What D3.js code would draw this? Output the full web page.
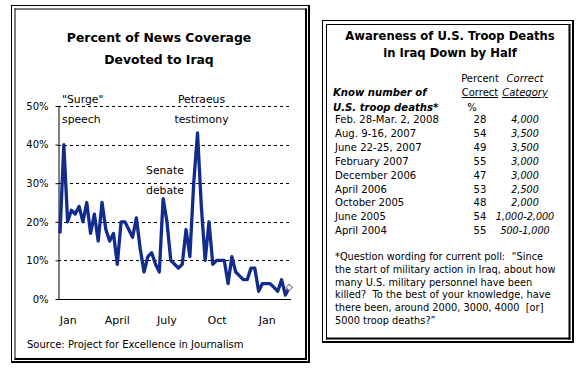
<!DOCTYPE html>
<html><head><meta charset="utf-8">
<script src="https://cdn.jsdelivr.net/npm/d3@7"></script>
<style>
html,body{margin:0;padding:0;background:#fff;}
svg{display:block;}
text{font-family:"DejaVu Sans",sans-serif;fill:#000;}
</style></head><body>
<svg id="c" width="585" height="369"></svg>
<script>
// ---------- data ----------
const chartTitle = ["Percent of News Coverage", "Devoted to Iraq"];
const firstWeek = "2007-01-01";
const lastWeek = "2008-02-25";
// weekly share of news coverage devoted to Iraq (%)
const coverage = [17,40,20,23,22,24,20,25,17,22,15,25,18,15,17,9,20,20,18,16,21,13,7,11,12,9,7,26,20,10,9,8,9,18,11,30,43,24,10,20,9,10,10,10,4,11,7,6,5,5,8,8,2,4,4,4,3,2,5,1,3];
const monthTickDates = ["2007-01-15","2007-04-15","2007-07-15","2007-10-15","2008-01-15"];
const monthTickLabels = ["Jan","April","July","Oct","Jan"];
const yTicks = [0,10,20,30,40,50];
const gridTicks = [10,20,30,40,50];
const noteTexts = [["\"Surge\"","speech"],["Petraeus","testimony"],["Senate","debate"]];
const noteDates = ["2007-01-01","2007-09-10","2007-07-05"];
const noteValues = [50,50,30];
const sourceText = "Source: Project for Excellence in Journalism";

const tableTitle = ["Awareness of U.S. Troop Deaths", "in Iraq Down by Half"];
const pollDates = ["Feb. 28-Mar. 2, 2008","Aug. 9-16, 2007","June 22-25, 2007","February 2007","December 2006","April 2006","October 2005","June 2005","April 2004"];
const pctCorrect = [28,54,49,55,47,53,48,54,55];
const correctCategory = ["4,000","3,500","3,500","3,000","3,000","2,500","2,000","1,000-2,000","500-1,000"];
const footnoteLines = [
  "*Question wording for current poll:  \u201CSince",
  "the start of military action in Iraq, about how",
  "many U.S. military personnel have been",
  "killed?  To the best of your knowledge, have",
  "there been, around 2000, 3000, 4000  [or]",
  "5000 troop deaths?\u201D"
];

// ---------- drawing ----------
const svg = d3.select("#c");
svg.append("rect").attr("width",585).attr("height",369).attr("fill","#fff");
const parse = d3.utcParse("%Y-%m-%d");

function frame(x0,y0,x1,y1,g0,g1){
  const g = svg.append("g").attr("stroke","#000").attr("fill","none");
  // outer
  g.append("line").attr("x1",x0).attr("x2",x1+1).attr("y1",y0+0.5).attr("y2",y0+0.5);
  g.append("line").attr("x1",x0+0.5).attr("x2",x0+0.5).attr("y1",y0).attr("y2",y1+1);
  g.append("line").attr("x1",x0).attr("x2",x1+1).attr("y1",y1).attr("y2",y1).attr("stroke-width",2);
  g.append("line").attr("x1",x1).attr("x2",x1).attr("y1",y0).attr("y2",y1+1).attr("stroke-width",2);
  // inner
  const a=x0+g0, b=y0+g0, c=x1-g1, d=y1-g1;
  g.append("line").attr("x1",a).attr("x2",c+1).attr("y1",b+0.5).attr("y2",b+0.5);
  g.append("line").attr("x1",a+0.5).attr("x2",a+0.5).attr("y1",b).attr("y2",d+1);
  g.append("line").attr("x1",a).attr("x2",c+1).attr("y1",d).attr("y2",d).attr("stroke-width",2);
  g.append("line").attr("x1",c).attr("x2",c).attr("y1",b).attr("y2",d+1).attr("stroke-width",2);
}
frame(11,5,309,362,3.5,3);
frame(322,20,573,342,4,3.5);

// ----- left chart -----
svg.append("g").selectAll("text").data(chartTitle).join("text")
  .attr("x",159).attr("y",(d,i)=>41.5+i*22.5).attr("text-anchor","middle")
  .attr("font-weight","bold").attr("font-size",12.4).text(d=>d);

const x = d3.scaleUtc().domain([parse(firstWeek), parse(lastWeek)]).range([60, 289.2]);
const y = d3.scaleLinear().domain([0,50]).range([299,106]);
const weeks = coverage.map((v,i)=>d3.utcDay.offset(parse(firstWeek), 7*i));

// gridlines
svg.append("g").selectAll("line").data(gridTicks).join("line")
  .attr("x1",58).attr("x2",290).attr("y1",d=>Math.round(y(d))+0.5).attr("y2",d=>Math.round(y(d))+0.5)
  .attr("stroke","#000").attr("stroke-dasharray","3,3");

// y axis
const ya = svg.append("g").attr("transform","translate(58.5,0)")
  .call(d3.axisLeft(y).tickValues(yTicks).tickFormat(d=>d+"%").tickSize(3).tickSizeOuter(0).tickPadding(7));
ya.attr("font-family","DejaVu Sans").attr("font-size",10);
ya.selectAll("text").attr("fill","#000");
ya.selectAll("line,path").attr("stroke","#000");

// x axis
svg.append("line").attr("x1",58).attr("x2",291).attr("y1",299.5).attr("y2",299.5).attr("stroke","#000");
const xa = svg.append("g").attr("transform","translate(0,299)")
  .call(d3.axisBottom(x).tickValues(monthTickDates.map(parse)).tickFormat((d,i)=>monthTickLabels[i]).tickSize(0));
xa.select(".domain").remove();
xa.attr("font-family","DejaVu Sans").attr("font-size",11);
xa.selectAll("text").attr("y",25).attr("dy",0).attr("fill","#000");

// line
svg.append("path").datum(coverage)
  .attr("d", d3.line().x((d,i)=>x(weeks[i])).y(d=>y(d)))
  .attr("fill","none").attr("stroke","#112b8e").attr("stroke-width",3.3).attr("stroke-linejoin","round");

// last point marker
const li = coverage.length-1;
svg.append("path").attr("d", d3.symbol(d3.symbolSquare, 20)())
  .attr("transform",`translate(${x(weeks[li])},${y(coverage[li])}) rotate(45)`)
  .attr("fill","#fff").attr("stroke","#777").attr("stroke-width",1);

// annotations
noteTexts.forEach((lines,k)=>{
  const anchor = k===0 ? "start" : "middle";
  const dx = k===0 ? 2 : 4;
  const base = y(noteValues[k]);
  const offs = k===2 ? [-9,11] : [-2.7,17.3];
  lines.forEach((t,j)=>{
    svg.append("text").attr("x", x(parse(noteDates[k]))+dx).attr("y", base+offs[j])
      .attr("text-anchor",anchor).attr("font-size",10.8).text(t);
  });
});

svg.append("text").attr("x",27).attr("y",348.3).attr("font-size",10).text(sourceText);

// ----- right table -----
svg.append("g").selectAll("text").data(tableTitle).join("text")
  .attr("x",450).attr("y",(d,i)=>40+i*16.5).attr("text-anchor","middle")
  .attr("font-weight","bold").attr("font-size",11.6).text(d=>d);

const colLabel = 335, colPct = 480, colCat = 525;
// header
svg.append("text").attr("x",colPct).attr("y",82.3).attr("text-anchor","middle").attr("font-size",10).text("Percent");
svg.append("text").attr("x",colCat).attr("y",82.3).attr("text-anchor","middle").attr("font-size",10).attr("font-style","italic").text("Correct");
svg.append("text").attr("x",colPct).attr("y",96).attr("text-anchor","middle").attr("font-size",10)
  .attr("text-decoration","underline").text("Correct");
svg.append("text").attr("x",colCat).attr("y",96).attr("text-anchor","middle").attr("font-size",10).attr("font-style","italic")
  .attr("text-decoration","underline").text("Category");
svg.append("text").attr("x",472).attr("y",110.5).attr("text-anchor","middle").attr("font-size",10).text("%");
svg.append("text").attr("x",333).attr("y",96).attr("font-family","Liberation Sans").attr("font-weight","bold")
  .attr("font-style","italic").attr("font-size",10.1).text("Know number of");
svg.append("text").attr("x",333).attr("y",110.5).attr("font-family","Liberation Sans").attr("font-weight","bold")
  .attr("font-style","italic").attr("font-size",10.1).text("U.S. troop deaths*");

const ry = d3.scalePoint().domain(d3.range(pollDates.length)).range([123,234.2]);
const rows = svg.append("g").selectAll("g").data(pollDates).join("g");
rows.append("text").attr("x",colLabel).attr("y",(d,i)=>ry(i)).attr("font-size",10.1).text(d=>d);
rows.append("text").attr("x",colPct).attr("y",(d,i)=>ry(i)).attr("text-anchor","middle").attr("font-size",10.1).text((d,i)=>pctCorrect[i]);
rows.append("text").attr("x",colCat).attr("y",(d,i)=>ry(i)).attr("text-anchor","middle").attr("font-size",9.6)
  .attr("font-style","italic").text((d,i)=>correctCategory[i]);

svg.append("g").selectAll("text").data(footnoteLines).join("text")
  .attr("x",335).attr("y",(d,i)=>260+i*12.8).attr("font-size",9.8)
  .style("white-space","pre").text(d=>d);
</script>
</body></html>
